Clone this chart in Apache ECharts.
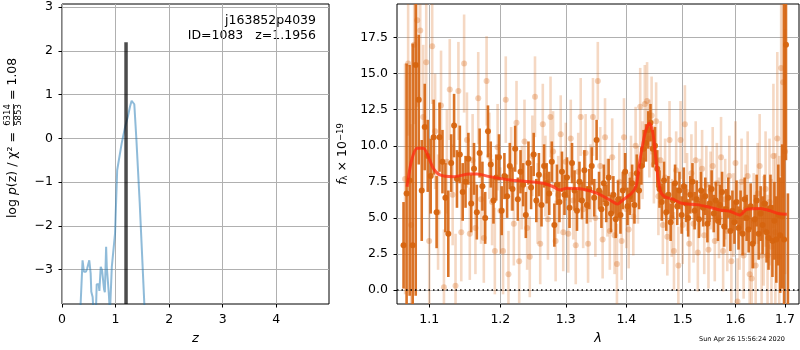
<!DOCTYPE html>
<html>
<head>
<meta charset="utf-8">
<script src="https://cdn.jsdelivr.net/npm/echarts@6.0.0/dist/echarts.min.js"></script>
<style>html,body{margin:0;padding:0;background:#fff}#chart{width:800px;height:350px}</style>
</head>
<body>
<div id="chart"></div>
<script>
// left panel: redshift probability
var zVals = [0.34, 0.384, 0.409, 0.447, 0.470, 0.509, 0.535, 0.547, 0.572, 0.590, 0.632, 0.648, 0.686, 0.698, 0.723, 0.748, 0.786, 0.800, 0.824, 0.836, 0.874, 0.895, 0.930, 0.990, 1.030, 1.065, 1.115, 1.180, 1.230, 1.250, 1.270, 1.300, 1.330, 1.350, 1.390, 1.450, 1.545];
var logPz = [-4.0, -2.79, -3.05, -3.05, -2.98, -2.79, -3.09, -3.51, -3.63, -4.0, -4.0, -3.34, -3.34, -3.49, -2.94, -3.02, -3.46, -3.52, -2.48, -2.94, -3.55, -4.0, -2.94, -2.18, -0.73, -0.69, -0.11, 0.27, 0.50, 0.50, 0.73, 0.86, 0.88, 0.78, -0.05, -1.45, -4.0];
var zBest = 1.1956;
var bestPeak = 2.2;
var zTicks = [0, 1, 2, 3, 4];
var pzTicks = [-3, -2, -1, 0, 1, 2, 3];

// right panel: spectrum  [lambda, flux, err]
var darkSpec = [
  [1.066,3.1,3.0],[1.070,6.7,9.0],[1.074,7.6,8.0],[1.078,3.1,14.0],[1.082,15.6,16.0],[1.086,13.2,4.5],[1.090,6.9,3.5],[1.094,11.3,3.0],
  [1.098,9.3,2.5],[1.102,7.9,2.6],[1.106,10.6,2.6],[1.110,5.4,2.5],[1.114,10.6,2.4],[1.118,8.9,2.2],[1.122,6.4,2.4],[1.126,3.9,3.0],
  [1.130,8.8,2.0],[1.134,11.4,2.2],[1.138,7.7,2.0],[1.142,9.4,2.0],[1.146,6.8,2.0],[1.150,7.5,1.8],[1.154,9.1,1.8],[1.158,6.0,2.0],
  [1.162,8.4,1.8],[1.166,5.4,1.9],[1.170,9.5,1.7],[1.174,7.2,1.7],[1.178,5.0,1.8],[1.182,11.0,1.8],[1.186,8.7,1.6],[1.190,6.2,1.6],
  [1.194,7.8,1.6],[1.198,9.2,1.6],[1.202,5.5,1.7],[1.206,7.9,1.6],[1.210,6.5,1.5],[1.214,8.6,1.6],[1.218,7.0,1.5],[1.222,9.8,1.6],
  [1.226,6.3,1.5],[1.230,8.2,1.5],[1.234,7.3,1.5],[1.238,5.2,1.6],[1.242,8.8,1.5],[1.246,7.1,1.5],[1.250,9.4,1.5],[1.254,6.2,1.5],
  [1.258,8.0,1.5],[1.262,5.9,1.5],[1.266,8.6,1.5],[1.270,7.4,1.4],[1.274,6.7,1.5],[1.278,8.9,1.4],[1.282,4.5,1.5],[1.286,7.3,1.4],
  [1.290,6.1,1.4],[1.294,8.2,1.4],[1.298,6.6,1.4],[1.302,7.8,1.4],[1.306,5.7,1.4],[1.310,8.8,1.4],[1.314,6.9,1.4],[1.318,5.5,1.4],
  [1.322,7.5,1.4],[1.326,6.2,1.3],[1.330,8.3,1.4],[1.334,5.9,1.3],[1.338,7.0,1.4],[1.342,8.6,1.3],[1.346,6.4,1.3],[1.350,10.4,1.4],
  [1.354,6.9,1.3],[1.358,5.6,1.3],[1.362,7.4,1.3],[1.366,6.0,1.3],[1.370,7.8,1.3],[1.374,5.3,1.3],[1.378,6.6,1.3],[1.382,4.9,1.3],
  [1.386,6.3,1.3],[1.390,5.2,1.3],[1.394,6.9,1.3],[1.398,8.2,1.3],[1.402,5.8,1.3],[1.406,6.5,1.3],[1.410,7.4,1.3],[1.414,5.9,1.3],
  [1.418,8.1,1.3],[1.422,6.9,1.3],[1.426,8.6,1.3],[1.430,9.8,1.3],[1.434,10.2,1.3],[1.438,11.1,1.3],[1.442,11.6,1.3],[1.446,9.8,1.3],
  [1.450,10.0,1.3],[1.454,8.4,1.3],[1.458,7.0,1.3],[1.462,6.1,1.3],[1.466,7.6,1.3],[1.470,5.4,1.3],[1.474,6.6,1.3],[1.478,4.7,1.3],
  [1.482,6.2,1.3],[1.486,7.4,1.3],[1.490,5.8,1.3],[1.494,6.9,1.3],[1.498,5.2,1.3],[1.502,7.2,1.3],[1.506,6.0,1.3],[1.510,5.0,1.3],
  [1.514,6.6,1.3],[1.518,7.5,1.3],[1.522,5.5,1.3],[1.526,6.3,1.3],[1.530,4.9,1.3],[1.534,6.9,1.3],[1.538,5.7,1.3],[1.542,6.5,1.3],
  [1.546,4.6,1.3],[1.550,6.0,1.3],[1.554,7.0,1.3],[1.558,5.3,1.3],[1.562,6.2,1.3],[1.566,4.8,1.4],[1.570,5.9,1.4],[1.574,6.8,1.4],
  [1.578,4.4,1.4],[1.582,5.6,1.4],[1.586,6.4,1.4],[1.590,4.1,1.4],[1.594,5.5,1.4],[1.598,4.7,1.5],[1.602,6.1,1.5],[1.606,4.3,1.5],
  [1.610,5.4,1.5],[1.614,3.9,1.5],[1.618,6.3,1.5],[1.622,5.0,1.6],[1.626,4.2,1.6],[1.630,5.8,1.6],[1.634,3.2,1.7],[1.638,4.9,1.7],
  [1.642,6.2,1.8],[1.646,3.9,1.8],[1.650,5.3,1.9],[1.654,4.5,2.0],[1.658,6.0,2.0],[1.662,4.0,2.1],[1.666,3.6,2.2],[1.670,5.7,2.3],
  [1.674,3.4,2.5],[1.678,4.8,2.7],[1.682,3.5,3.0],[1.686,5.2,3.5],[1.690,3.8,4.0],[1.694,5.1,5.0],[1.698,3.5,17.0],[1.702,17.0,8.0],
  [1.706,-1.5,8.2]
];
var lightSpec = [
  [1.068,7.7,8.0],[1.072,15.7,5.0],[1.076,4.5,7.0],[1.080,17.0,5.5],[1.084,18.7,6.0],[1.088,18.0,5.0],[1.092,12.0,5.0],[1.096,15.8,4.5],
  [1.100,3.4,4.5],[1.104,16.9,4.0],[1.108,11.0,4.0],[1.112,5.4,4.0],[1.116,12.8,3.8],[1.120,0.2,4.0],[1.124,8.9,3.6],[1.128,13.9,3.5],
  [1.132,6.6,3.5],[1.136,0.3,3.6],[1.140,13.8,3.4],[1.144,4.0,3.4],[1.148,15.7,3.4],[1.152,10.4,3.3],[1.156,3.9,3.2],[1.160,9.0,3.2],
  [1.164,4.3,3.2],[1.168,13.3,3.2],[1.172,6.3,3.1],[1.176,3.6,3.1],[1.180,14.5,3.1],[1.184,9.3,3.0],[1.188,6.1,3.0],[1.192,2.7,3.0],
  [1.196,9.9,3.0],[1.200,5.5,3.0],[1.204,2.7,3.0],[1.208,13.2,3.0],[1.212,1.1,3.0],[1.216,8.4,2.9],[1.220,4.6,2.9],[1.224,11.6,2.9],
  [1.228,2.0,2.9],[1.232,7.1,2.9],[1.236,10.3,2.9],[1.240,4.3,2.9],[1.244,2.3,2.8],[1.248,9.3,2.8],[1.252,13.4,2.8],[1.256,6.0,2.8],
  [1.260,3.2,2.8],[1.264,11.5,2.8],[1.268,7.9,2.8],[1.272,4.9,2.8],[1.276,12.0,2.8],[1.280,9.6,2.8],[1.284,3.4,2.8],[1.288,6.6,2.7],
  [1.292,10.8,2.7],[1.296,4.0,2.7],[1.300,8.9,2.7],[1.304,3.9,2.7],[1.308,10.5,2.7],[1.312,6.2,2.7],[1.316,3.1,2.7],[1.320,8.2,2.7],
  [1.324,12.0,2.7],[1.328,5.6,2.7],[1.332,9.5,2.7],[1.336,3.2,2.7],[1.340,7.4,2.7],[1.344,12.0,2.7],[1.348,5.0,2.7],[1.352,14.5,2.7],
  [1.356,8.6,2.7],[1.360,3.5,2.7],[1.364,10.6,2.7],[1.368,6.4,2.7],[1.372,4.1,2.7],[1.376,9.2,2.7],[1.380,3.8,2.7],[1.384,1.8,2.8],
  [1.388,7.5,2.7],[1.392,3.4,2.7],[1.396,10.6,2.7],[1.400,5.6,2.7],[1.404,4.2,2.7],[1.408,8.0,2.7],[1.412,5.1,2.7],[1.416,10.0,2.7],
  [1.420,7.3,2.7],[1.424,12.7,2.7],[1.428,9.0,2.7],[1.432,12.9,2.7],[1.436,13.1,2.7],[1.440,10.5,2.7],[1.444,12.1,2.7],[1.448,8.7,2.7],
  [1.452,11.7,2.7],[1.456,6.5,2.7],[1.460,9.0,2.7],[1.464,4.5,2.7],[1.468,7.8,2.7],[1.472,3.7,2.7],[1.476,10.4,2.7],[1.480,5.0,2.7],
  [1.484,2.7,2.7],[1.488,8.3,2.7],[1.492,1.7,2.7],[1.496,10.4,2.7],[1.500,4.5,2.7],[1.504,11.5,2.7],[1.508,6.8,2.7],[1.512,3.2,2.7],
  [1.516,8.1,2.7],[1.520,4.6,2.7],[1.524,9.0,2.7],[1.528,2.6,2.7],[1.532,6.4,2.7],[1.536,8.4,2.7],[1.540,3.8,2.7],[1.544,7.3,2.7],
  [1.548,2.8,2.7],[1.552,6.9,2.7],[1.556,8.6,2.7],[1.560,3.4,2.8],[1.564,7.4,2.8],[1.568,5.0,2.8],[1.572,9.2,2.8],[1.576,2.7,2.8],
  [1.580,6.3,2.8],[1.584,4.1,2.8],[1.588,7.9,2.8],[1.592,2.0,2.9],[1.596,5.2,2.9],[1.600,8.8,2.9],[1.604,-0.8,3.0],[1.608,4.4,3.0],
  [1.612,7.5,3.0],[1.616,2.4,3.0],[1.620,5.6,3.1],[1.624,7.9,3.1],[1.628,1.1,3.2],[1.632,0.8,3.3],[1.636,4.8,3.3],[1.640,1.7,3.4],
  [1.644,6.7,3.5],[1.648,8.6,3.6],[1.652,2.4,3.7],[1.656,4.1,3.8],[1.660,7.0,4.0],[1.664,2.4,4.2],[1.668,6.1,4.4],[1.672,3.0,4.7],
  [1.676,9.3,5.0],[1.680,4.0,5.5],[1.684,10.5,6.0],[1.688,2.3,7.0],[1.692,15.4,7.5],[1.696,14.4,8.0],[1.700,9.6,8.5]
];
var modelSpec = [
  [1.0707,7.16],[1.0766,9.0],[1.084,9.83],[1.092,9.83],[1.0988,9.25],[1.1054,8.44],[1.1145,7.98],[1.1328,7.86],[1.1562,8.04],
  [1.1658,8.04],[1.1848,7.86],[1.2142,7.63],[1.2443,7.51],[1.2648,7.4],[1.2804,7.16],[1.2907,6.93],[1.3014,7.05],[1.3281,6.98],
  [1.3501,6.71],[1.3721,6.24],[1.3847,5.96],[1.3942,6.24],[1.409,6.71],[1.4166,7.16],[1.4235,9.0],[1.4325,10.87],[1.44,11.56],
  [1.4462,10.87],[1.4518,9.0],[1.4589,6.93],[1.4673,6.47],[1.4826,6.29],[1.4982,6.01],[1.5259,5.92],[1.5508,5.73],[1.5699,5.55],
  [1.5891,5.46],[1.608,5.2],[1.6226,5.6],[1.6492,5.66],[1.6685,5.5],[1.6859,5.3],[1.7038,5.26]
];
var waveTicks = [1.1, 1.2, 1.3, 1.4, 1.5, 1.6, 1.7];
var fluxTicks = [0, 2.5, 5, 7.5, 10, 12.5, 15, 17.5];

var font = 'DejaVu Sans';
var orange = '#d6640f';

function minus(v) { return String(v).replace('-', '\u2212'); }

function errorBars(color, barAlpha, dotAlpha) {
  return function (params, api) {
    var x = api.value(0), f = api.value(1), e = api.value(2);
    var lo = api.coord([x, f - e]);
    var hi = api.coord([x, f + e]);
    var c = api.coord([x, f]);
    return {
      type: 'group',
      children: [
        {type: 'line', shape: {x1: lo[0], y1: lo[1], x2: hi[0], y2: hi[1]},
          style: {stroke: color, lineWidth: 2.6, opacity: barAlpha}},
        {type: 'circle', shape: {cx: c[0], cy: c[1], r: 3},
          style: {fill: color, opacity: dotAlpha}}
      ]
    };
  };
}

function axisBase(ticks, fmt, margin) {
  return {
    axisLine: {show: false, onZero: false},
    axisTick: {show: true, length: 3.5, lineStyle: {color: '#000', width: 1}, customValues: ticks},
    axisLabel: {color: '#000', fontFamily: font, fontSize: 12.5, margin: margin, customValues: ticks, formatter: fmt},
    splitLine: {show: true, lineStyle: {color: '#b0b0b0', width: 1}}
  };
}

var xLeft = Object.assign({gridIndex: 0, type: 'value', min: 0, max: 4.985,
  name: 'z', nameLocation: 'middle', nameGap: 28,
  nameTextStyle: {fontFamily: font, fontSize: 13, fontStyle: 'italic', color: '#000'}},
  axisBase(zTicks, minus, 9));
var yLeft = Object.assign({gridIndex: 0, type: 'value', min: -3.79, max: 3.073},
  axisBase(pzTicks, minus, 9));
var xRight = Object.assign({gridIndex: 1, type: 'log', logBase: 10, min: 1.0575, max: 1.7293,
  name: '\u03bb', nameLocation: 'middle', nameGap: 28,
  nameTextStyle: {fontFamily: font, fontSize: 13, fontStyle: 'italic', color: '#000'}},
  axisBase(waveTicks, function (v) { return v.toFixed(1); }, 9));
var yRight = Object.assign({gridIndex: 1, type: 'value', min: -0.97, max: 19.83,
  name: '{i|f}{s|\u03bb} \u00d7 10{p|\u221219}', nameLocation: 'middle', nameGap: 46, nameRotate: 90,
  nameTextStyle: {fontFamily: font, fontSize: 12.5, color: '#000',
    rich: {
      i: {fontFamily: font, fontSize: 12.5, fontStyle: 'italic'},
      s: {fontFamily: font, fontSize: 8.5, verticalAlign: 'bottom', lineHeight: 8},
      p: {fontFamily: font, fontSize: 8.5, verticalAlign: 'top', lineHeight: 8}
    }}},
  axisBase(fluxTicks, function (v) { return v.toFixed(1); }, 9));

var option = {
  animation: false,
  backgroundColor: '#fff',
  grid: [
    {left: 62, top: 4, width: 267, height: 300, show: true, borderColor: '#000', borderWidth: 1, backgroundColor: 'transparent'},
    {left: 397, top: 4, width: 402, height: 300, show: true, borderColor: '#000', borderWidth: 1, backgroundColor: 'transparent'}
  ],
  xAxis: [xLeft, xRight],
  yAxis: [yLeft, yRight],
  series: [
    {
      type: 'line', xAxisIndex: 0, yAxisIndex: 0, showSymbol: false,
      data: zVals.map(function (z, i) { return [z, logPz[i]]; }),
      lineStyle: {color: '#1f77b4', width: 2, opacity: 0.5}
    },
    {
      type: 'line', xAxisIndex: 0, yAxisIndex: 0, showSymbol: false,
      data: [[zBest, -3.79], [zBest, bestPeak]],
      lineStyle: {color: '#000', width: 3.5, opacity: 0.7}
    },
    {
      type: 'custom', xAxisIndex: 1, yAxisIndex: 1, clip: true,
      renderItem: errorBars(orange, 0.25, 0.3),
      encode: {x: 0, y: 1},
      data: lightSpec
    },
    {
      type: 'custom', xAxisIndex: 1, yAxisIndex: 1, clip: true,
      renderItem: errorBars(orange, 0.9, 0.95),
      encode: {x: 0, y: 1},
      data: darkSpec
    },
    {
      type: 'line', xAxisIndex: 1, yAxisIndex: 1, showSymbol: false, smooth: 0.3,
      data: modelSpec,
      lineStyle: {color: '#ff2a10', width: 3, opacity: 0.75}
    },
    {
      type: 'line', xAxisIndex: 1, yAxisIndex: 1, showSymbol: false,
      data: [[1.0575, 0], [1.7293, 0]],
      lineStyle: {color: '#000', width: 1.5, type: [1.5, 3]}
    }
  ],
  graphic: [
    {type: 'text', x: 316, y: 20.5, style: {text: 'j163852p4039', fontFamily: font, fontSize: 12.5, fill: '#000', align: 'right', verticalAlign: 'middle'}},
    {type: 'text', x: 316, y: 35.5, style: {text: 'ID=1083   z=1.1956', fontFamily: font, fontSize: 12.5, fill: '#000', align: 'right', verticalAlign: 'middle'}},
    {type: 'text', x: 742, y: 339, style: {text: 'Sun Apr 26 15:56:24 2020', fontFamily: font, fontSize: 6.5, fill: '#000', align: 'center', verticalAlign: 'middle'}},
    {
      type: 'group', x: 13, y: 154, rotation: Math.PI / 2,
      children: [
        {type: 'text', x: 22, y: 0, style: {text: 'log {i|p}(z) / \u03c7\u00b2 =', fontFamily: font, fontSize: 12.5, fill: '#000', align: 'right', verticalAlign: 'middle',
          rich: {i: {fontFamily: font, fontSize: 12.5, fontStyle: 'italic'}}}},
        {type: 'text', x: 39, y: -5, style: {text: '6314', fontFamily: font, fontSize: 8.5, fill: '#000', align: 'center', verticalAlign: 'middle'}},
        {type: 'line', shape: {x1: 28, y1: 0.5, x2: 50, y2: 0.5}, style: {stroke: '#000', lineWidth: 0.8}},
        {type: 'text', x: 39, y: 6, style: {text: '5853', fontFamily: font, fontSize: 8.5, fill: '#000', align: 'center', verticalAlign: 'middle'}},
        {type: 'text', x: 54, y: 0, style: {text: '= 1.08', fontFamily: font, fontSize: 12.5, fill: '#000', align: 'left', verticalAlign: 'middle'}}
      ]
    }
  ]
};

var chart = echarts.init(document.getElementById('chart'));
chart.setOption(option);
</script>
</body>
</html>
